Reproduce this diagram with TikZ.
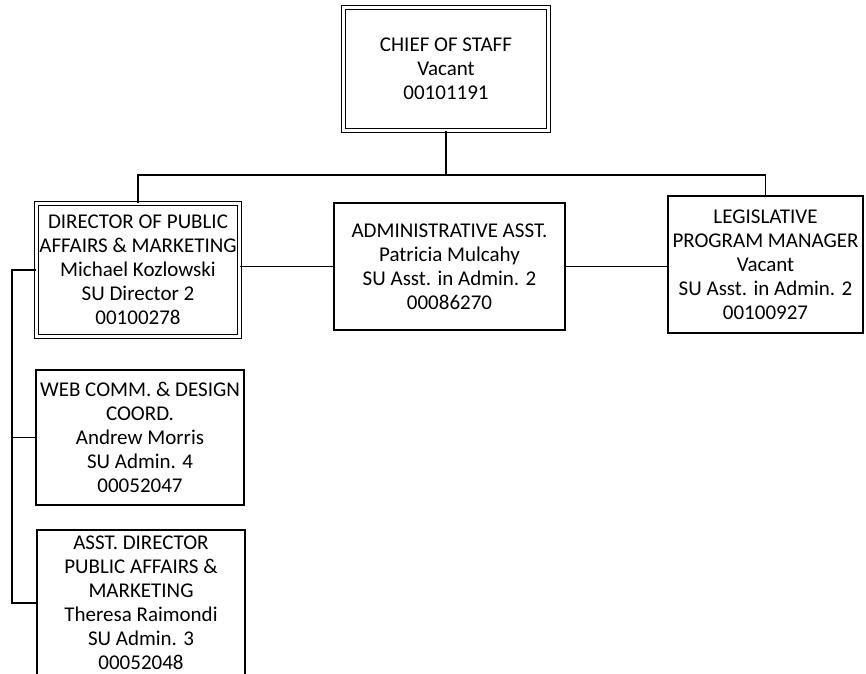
\documentclass[tikz,border=0pt]{standalone}
\usepackage{fontspec}
\setmainfont{Carlito}

\begin{document}
\begin{tikzpicture}[x = 1pt, y = -1pt, font = \fontsize{21}{24}\selectfont,
  post/.style = {draw, line width = 1.3pt, align = center, inner sep = 0pt},
  dpost/.style = {post, double, line width = 1.2pt, double distance = 2.8pt},
  link/.style = {line width = 1.5pt}]
  \useasboundingbox (0, 0) rectangle (866, 673);
  \node [dpost, minimum width = 205pt, minimum height = 123pt] (chief) at (446, 69) {CHIEF OF STAFF\\Vacant\\00101191};
  \node [dpost, minimum width = 203pt, minimum height = 133pt] (dir) at (138, 270) {DIRECTOR OF PUBLIC\\AFFAIRS \& MARKETING\\Michael Kozlowski\\SU Director 2\\00100278};
  \node [post, minimum width = 231pt, minimum height = 127pt] (admin) at (449.5, 266.5) {ADMINISTRATIVE ASST.\\Patricia Mulcahy\\SU Asst. in Admin. 2\\00086270};
  \node [post, minimum width = 195pt, minimum height = 137pt] (legis) at (765.5, 264.5) {LEGISLATIVE\\PROGRAM MANAGER\\Vacant\\SU Asst. in Admin. 2\\00100927};
  \node [post, minimum width = 208pt, minimum height = 135pt] (web) at (140, 437.5) {WEB COMM. \& DESIGN\\COORD.\\Andrew Morris\\SU Admin. 4\\00052047};
  \node [post, minimum width = 208pt, minimum height = 146pt] (asst) at (141, 603) {ASST. DIRECTOR\\PUBLIC AFFAIRS \&\\MARKETING\\Theresa Raimondi\\SU Admin. 3\\00052048};
  \coordinate (bus) at (chief.south |- 0, 175);
  \draw [link] (chief.south) -- (bus);
  \draw [link] (dir.north) |- (bus) -| (legis.north);
  \draw [link] (admin.west) -- (admin.west -| dir.east);
  \draw [link] (admin.east) -- (admin.east -| legis.west);
  \draw [link] (dir.west) -- ++(-24, 0) coordinate (spine) |- (asst.west);
  \draw [link] (spine |- web.west) -- (web.west);
\end{tikzpicture}
\end{document}
